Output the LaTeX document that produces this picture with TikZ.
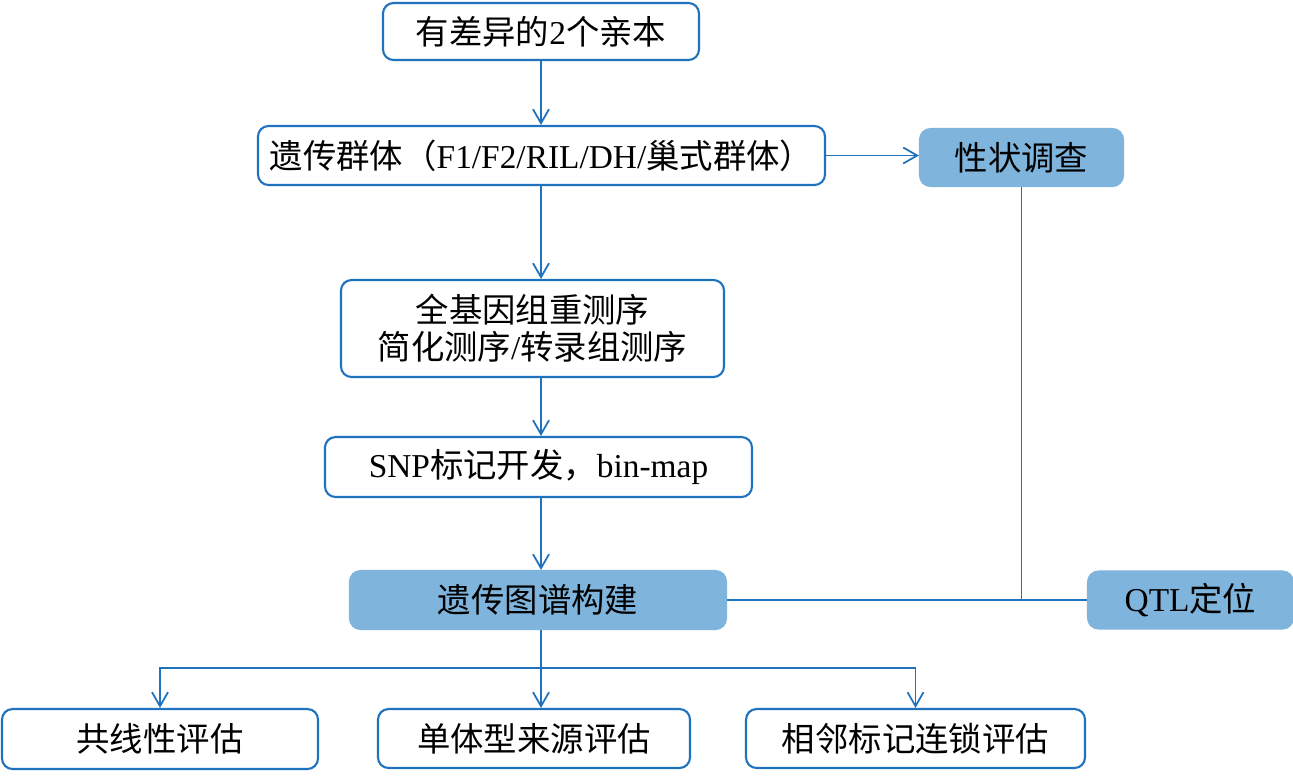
\documentclass[tikz,border=0pt]{standalone}
\usepackage{fontspec}
\setmainfont{Liberation Serif}
\newfontfamily\cjk{Noto Sans CJK SC}
\usepackage{xcolor}
\usetikzlibrary{arrows.meta}

\definecolor{lineblue}{RGB}{31,114,190}
\definecolor{fillblue}{RGB}{127,180,220}

\tikzset{
    box/.style={draw=lineblue, line width=1.2pt, rounded corners=6pt, align=center,
        font=\fontsize{19}{21}\selectfont, inner sep=0pt},
    keybox/.style={box, draw=fillblue, fill=fillblue},
    link/.style={draw=lineblue, line width=1pt},
    arr/.style={link, -{Straight Barb[length=2.8mm,width=3.2mm]}}
}

\begin{document}
\begin{tikzpicture}[x=0.02cm, y=-0.02cm]
    \useasboundingbox (0,0) rectangle (1293,779);

    % Main chain
    \node[box, minimum width=316*0.02cm, minimum height=57*0.02cm] (parents) at (541,31.5)
        {{\cjk 有差异的}2{\cjk 个亲本}};
    \node[box, minimum width=567*0.02cm, minimum height=59*0.02cm] (pop) at (541.5,155.5)
        {{\cjk 遗传群体（}F1/F2/RIL/DH/{\cjk 巢式群体）}};
    \node[box, minimum width=383*0.02cm, minimum height=97*0.02cm] (seq) at (532.5,328.5)
        {{\cjk 全基因组重测序}\\{\cjk 简化测序}/{\cjk 转录组测序}};
    \node[box, minimum width=427*0.02cm, minimum height=60*0.02cm] (snp) at (538.5,467)
        {SNP{\cjk 标记开发，}bin-map};
    \node[keybox, minimum width=376*0.02cm, minimum height=58*0.02cm] (map) at (538,600)
        {{\cjk 遗传图谱构建}};

    % Trait survey and QTL
    \node[keybox, minimum width=203*0.02cm, minimum height=57*0.02cm] (trait) at (1021.5,157.5)
        {{\cjk 性状调查}};
    \node[keybox, minimum width=205*0.02cm, minimum height=57*0.02cm] (qtl) at (1190.5,600)
        {QTL{\cjk 定位}};

    % Evaluations
    \node[box, minimum width=316*0.02cm, minimum height=60*0.02cm] (col) at (160,739)
        {{\cjk 共线性评估}};
    \node[box, minimum width=312*0.02cm, minimum height=59*0.02cm] (hap) at (534,738.5)
        {{\cjk 单体型来源评估}};
    \node[box, minimum width=339*0.02cm, minimum height=59*0.02cm] (adj) at (915.5,738.5)
        {{\cjk 相邻标记连锁评估}};

    % Connectors
    \draw[arr] (parents.south) -- (parents.south |- pop.north);
    \draw[arr] (pop.east) -- (pop.east -| trait.west);
    \draw[arr] (parents.south |- pop.south) -- (parents.south |- seq.north);
    \draw[arr] (parents.south |- seq.south) -- (parents.south |- snp.north);
    \draw[arr] (parents.south |- snp.south) -- (parents.south |- map.north);
    \draw[link] (map.east) -- (qtl.west);
    \draw[link] (trait.south) -- (trait.south |- qtl.west);

    \coordinate (hub) at (541,668);
    \draw[link] (parents.south |- map.south) -- (hub);
    \draw[arr] (hub) -| (col.north);
    \draw[arr] (hub) -| (adj.north);
    \draw[arr] (hub) -- (hub |- hap.north);
\end{tikzpicture}
\end{document}
